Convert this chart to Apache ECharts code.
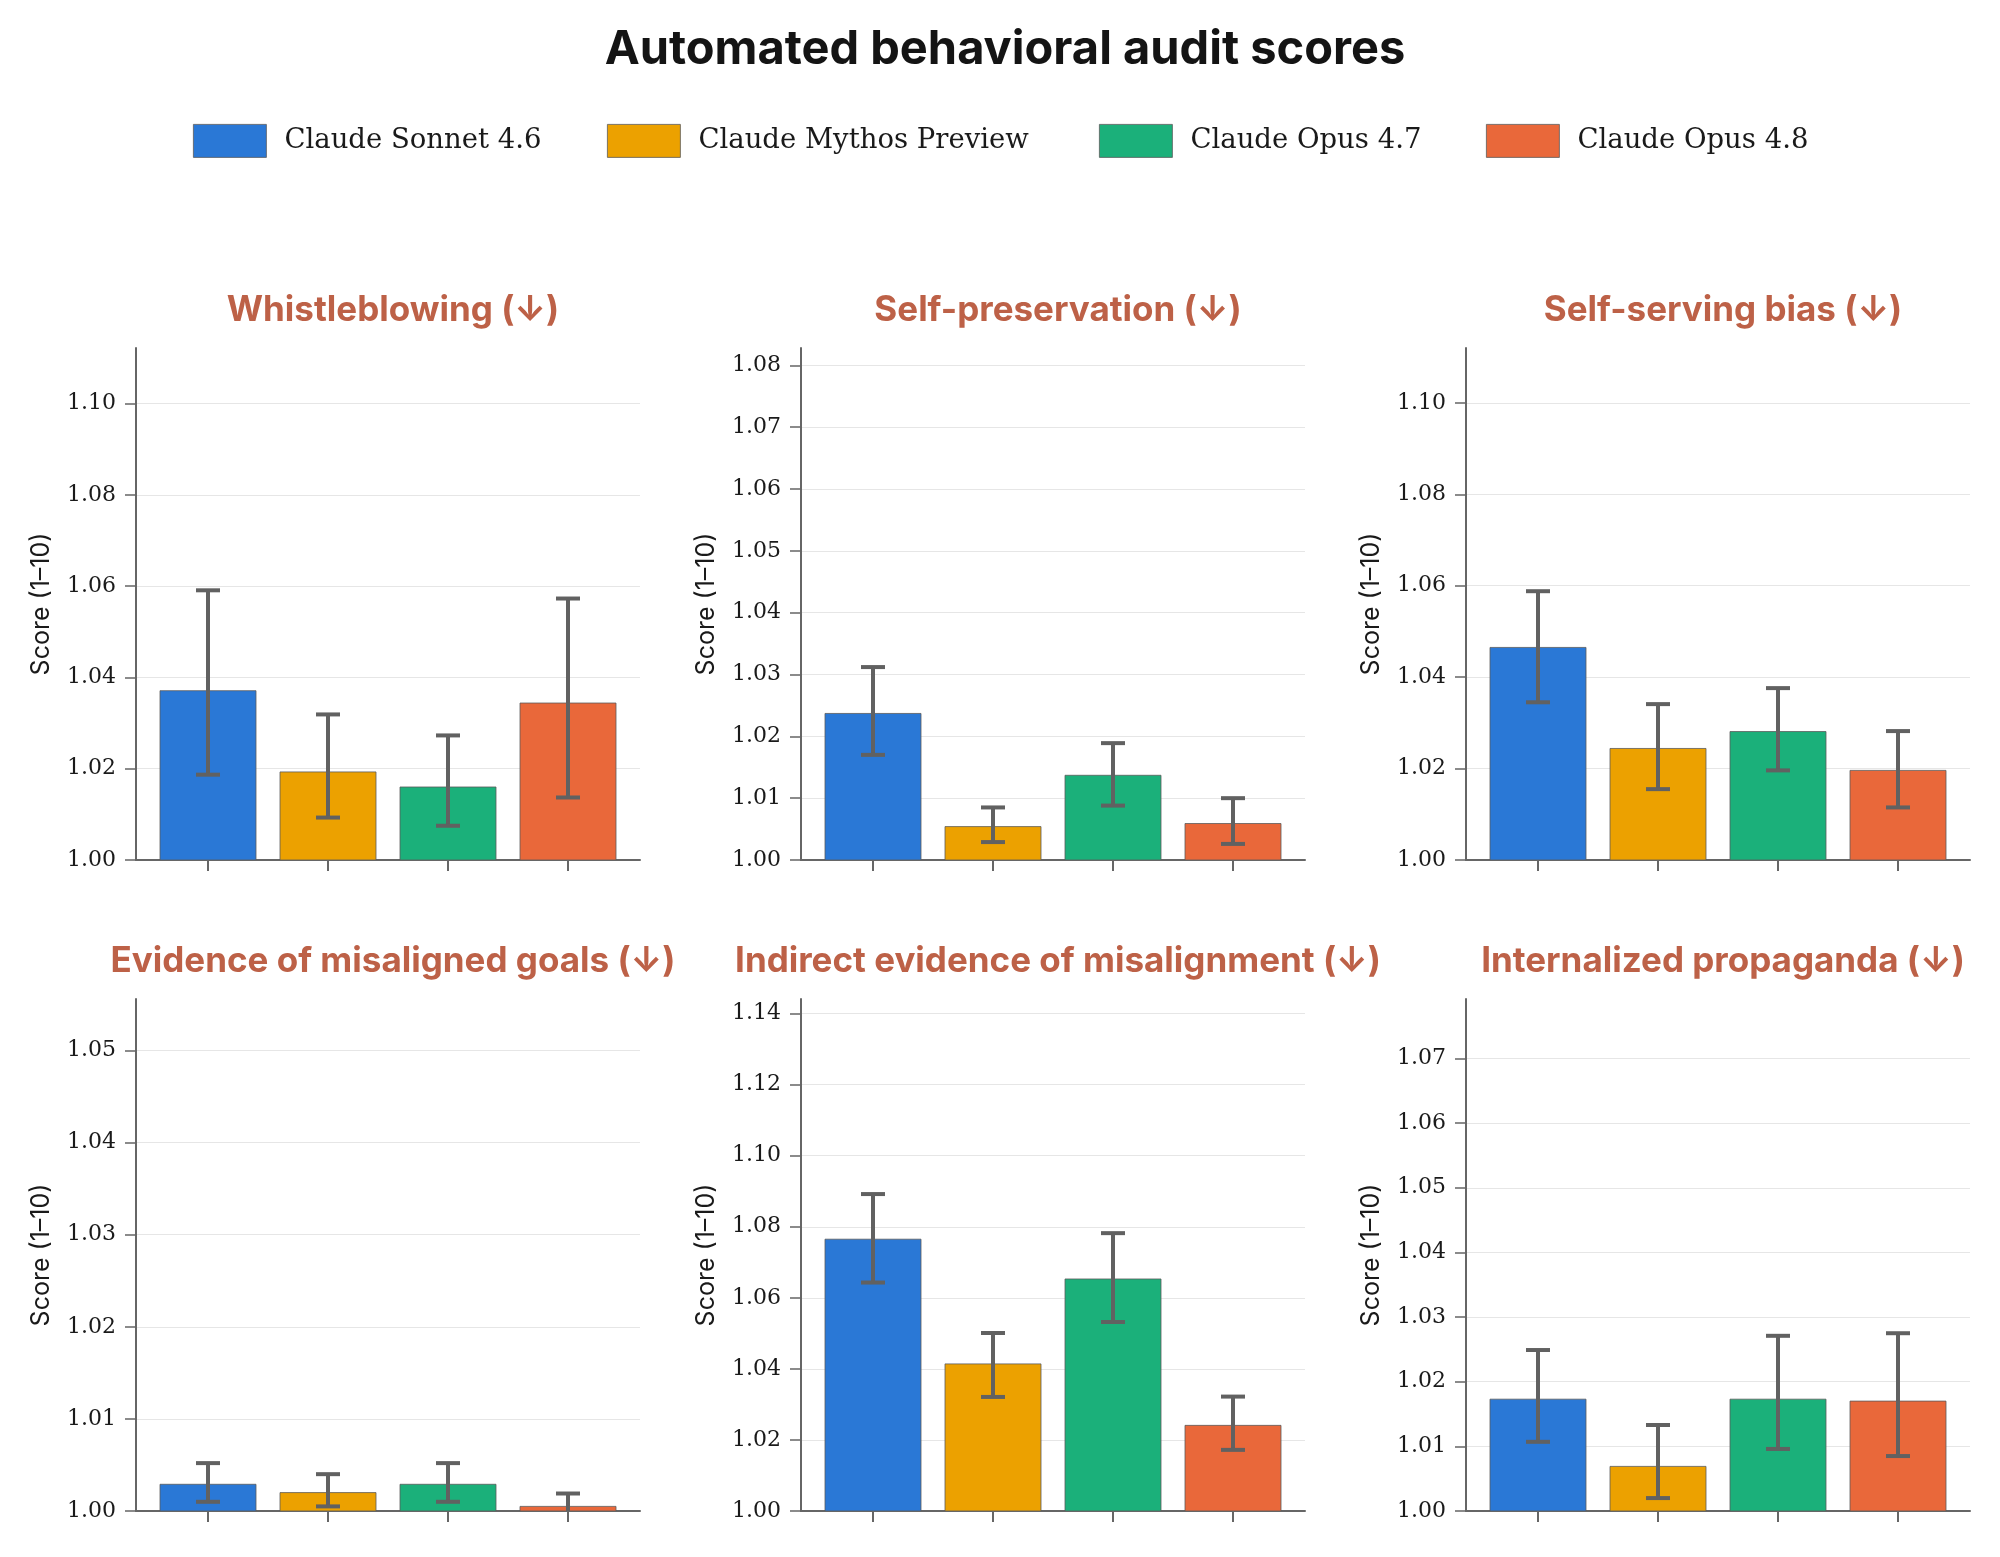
<!DOCTYPE html>
<html>
<head>
<meta charset="utf-8">
<title>Automated behavioral audit scores</title>
<script src="https://cdn.jsdelivr.net/npm/echarts@6/dist/echarts.min.js"></script>
<style>
  html, body { margin: 0; padding: 0; background: #fff; }
  #chart { width: 2000px; height: 1557px; }
</style>
</head>
<body>
<div id="chart"></div>
<script>
// models / legend
const models = ['Claude Sonnet 4.6', 'Claude Mythos Preview', 'Claude Opus 4.7', 'Claude Opus 4.8'];
const modelColors = ['#2a78d6', '#eca100', '#1bb07a', '#e9683a'];

// one entry per panel
const panelTitles = [
    'Whistleblowing (↓)',
    'Self-preservation (↓)',
    'Self-serving bias (↓)',
    'Evidence of misaligned goals (↓)',
    'Indirect evidence of misalignment (↓)',
    'Internalized propaganda (↓)'
];
const scores = [
    [1.0371, 1.0193, 1.0160, 1.0344],
    [1.0237, 1.0054, 1.0137, 1.0059],
    [1.0465, 1.0244, 1.0281, 1.0196],
    [1.0029, 1.0020, 1.0029, 1.0005],
    [1.0765, 1.0414, 1.0653, 1.0241],
    [1.0173, 1.0069, 1.0173, 1.0170]
];
const errLow = [
    [1.0187, 1.0093, 1.0075, 1.0137],
    [1.0170, 1.0029, 1.0088, 1.0026],
    [1.0345, 1.0155, 1.0196, 1.0115],
    [1.0010, 1.0005, 1.0010, 0.9991],
    [1.0643, 1.0321, 1.0532, 1.0172],
    [1.0107, 1.0020, 1.0096, 1.0085]
];
const errHigh = [
    [1.0591, 1.0319, 1.0273, 1.0573],
    [1.0312, 1.0085, 1.0189, 1.0100],
    [1.0588, 1.0341, 1.0376, 1.0282],
    [1.0052, 1.0040, 1.0052, 1.0019],
    [1.0892, 1.0501, 1.0782, 1.0322],
    [1.0249, 1.0133, 1.0271, 1.0275]
];
// y tick labels and axis tops
const yTicks = [
    [1.00, 1.02, 1.04, 1.06, 1.08, 1.10],
    [1.00, 1.01, 1.02, 1.03, 1.04, 1.05, 1.06, 1.07, 1.08],
    [1.00, 1.02, 1.04, 1.06, 1.08, 1.10],
    [1.00, 1.01, 1.02, 1.03, 1.04, 1.05],
    [1.00, 1.02, 1.04, 1.06, 1.08, 1.10, 1.12, 1.14],
    [1.00, 1.01, 1.02, 1.03, 1.04, 1.05, 1.06, 1.07]
];
const yMax = [1.1122, 1.0828, 1.1120, 1.0556, 1.1441, 1.0792];

const Y_MIN = 1.0;
const BAR_HALF = 0.4;
const CAP_HALF = 0.1;

// layout of the 2x3 grid (px)
const colLeft = [136, 801, 1466];
const rowTop = [348, 999];
const gridW = 504, gridH = 512;

const AXIS_COLOR = '#666666';
const TITLE_COLOR = '#bd6147';
const SANS = 'Inter, "Open Sans", sans-serif';
const SERIF = '"DejaVu Serif", serif';

const chart = echarts.init(document.getElementById('chart'), null, { renderer: 'canvas' });

function renderBar(params, api) {
    const x = api.value(0);
    const v = api.value(1);
    const a = api.coord([x - BAR_HALF, v]);
    const b = api.coord([x + BAR_HALF, Y_MIN]);
    return {
        type: 'rect',
        shape: { x: a[0], y: a[1], width: b[0] - a[0], height: b[1] - a[1] },
        style: { fill: api.visual('color'), stroke: '#5c5c5c', lineWidth: 0.8 }
    };
}

function renderErr(params, api) {
    const x = api.value(0);
    const lo = api.coord([x, api.value(1)]);
    const hi = api.coord([x, api.value(2)]);
    const capL = api.coord([x - CAP_HALF, api.value(1)])[0];
    const capR = api.coord([x + CAP_HALF, api.value(1)])[0];
    const st = { stroke: '#616161', lineWidth: 4 };
    return {
        type: 'group',
        children: [
            { type: 'line', shape: { x1: lo[0], y1: lo[1], x2: hi[0], y2: hi[1] }, style: st },
            { type: 'line', shape: { x1: capL, y1: lo[1], x2: capR, y2: lo[1] }, style: st },
            { type: 'line', shape: { x1: capL, y1: hi[1], x2: capR, y2: hi[1] }, style: st }
        ]
    };
}

const grids = [], xAxes = [], yAxes = [], titles = [], series = [];

titles.push({
    text: 'Automated behavioral audit scores',
    left: 1000,
    top: 21,
    textAlign: 'center',
    textStyle: { fontFamily: SANS, fontWeight: 700, fontSize: 47, color: '#141414' }
});

panelTitles.forEach((t, p) => {
    const left = colLeft[p % 3];
    const top = rowTop[Math.floor(p / 3)];
    grids.push({ left: left, top: top, width: gridW, height: gridH });
    titles.push({
        text: t,
        left: left + gridW / 2,
        top: top - 60,
        textAlign: 'center',
        textStyle: { fontFamily: SANS, fontWeight: 700, fontSize: 35, color: TITLE_COLOR }
    });
    xAxes.push({
        gridIndex: p,
        type: 'value',
        min: -0.6,
        max: 3.6,
        axisLine: { show: true, onZero: false, lineStyle: { color: AXIS_COLOR, width: 2 } },
        axisTick: { show: true, length: 11, customValues: [0, 1, 2, 3], lineStyle: { color: AXIS_COLOR, width: 2 } },
        axisLabel: { show: false },
        splitLine: { show: false }
    });
    const step = yTicks[p][1] - yTicks[p][0];
    yAxes.push({
        gridIndex: p,
        type: 'value',
        min: Y_MIN,
        max: yMax[p],
        interval: step,
        name: 'Score (1–10)',
        nameLocation: 'middle',
        nameGap: 82,
        nameTextStyle: { fontFamily: SANS, fontSize: 25, color: '#1a1a1a' },
        axisLine: { show: true, onZero: false, lineStyle: { color: AXIS_COLOR, width: 2 } },
        axisTick: { show: true, length: 11, customValues: yTicks[p], lineStyle: { color: AXIS_COLOR, width: 1.5 } },
        axisLabel: {
            customValues: yTicks[p],
            margin: 20,
            fontFamily: SERIF,
            fontSize: 22,
            color: '#1a1a1a',
            formatter: v => v.toFixed(2)
        },
        splitLine: { show: true, lineStyle: { color: '#e6e6e6', width: 1.2 } }
    });

    models.forEach((m, i) => {
        series.push({
            type: 'custom',
            name: m,
            xAxisIndex: p,
            yAxisIndex: p,
            clip: true,
            itemStyle: { color: modelColors[i], borderColor: '#5c5c5c', borderWidth: 0.8 },
            encode: { x: 0, y: 1 },
            renderItem: renderBar,
            data: [[i, scores[p][i]]]
        });
    });
    series.push({
        type: 'custom',
        name: 'err' + p,
        xAxisIndex: p,
        yAxisIndex: p,
        clip: true,
        z: 5,
        encode: { x: 0, y: [1, 2] },
        renderItem: renderErr,
        data: models.map((m, i) => [i, errLow[p][i], errHigh[p][i]])
    });
});

const legendLeft = [193, 607, 1099, 1486];
const legends = models.map((m, i) => ({
    data: [m],
    left: legendLeft[i],
    top: 124,
    padding: 0,
    itemWidth: 73,
    itemHeight: 33,
    icon: 'rect',
    selectedMode: false,
    itemStyle: { borderColor: '#5c5c5c', borderWidth: 0.8 },
    textStyle: { fontFamily: SERIF, fontSize: 27.5, color: '#1a1a1a', padding: [0, 0, 0, 13] }
}));

chart.setOption({
    backgroundColor: '#ffffff',
    animation: false,
    title: titles,
    legend: legends,
    grid: grids,
    xAxis: xAxes,
    yAxis: yAxes,
    series: series
});
</script>
</body>
</html>
